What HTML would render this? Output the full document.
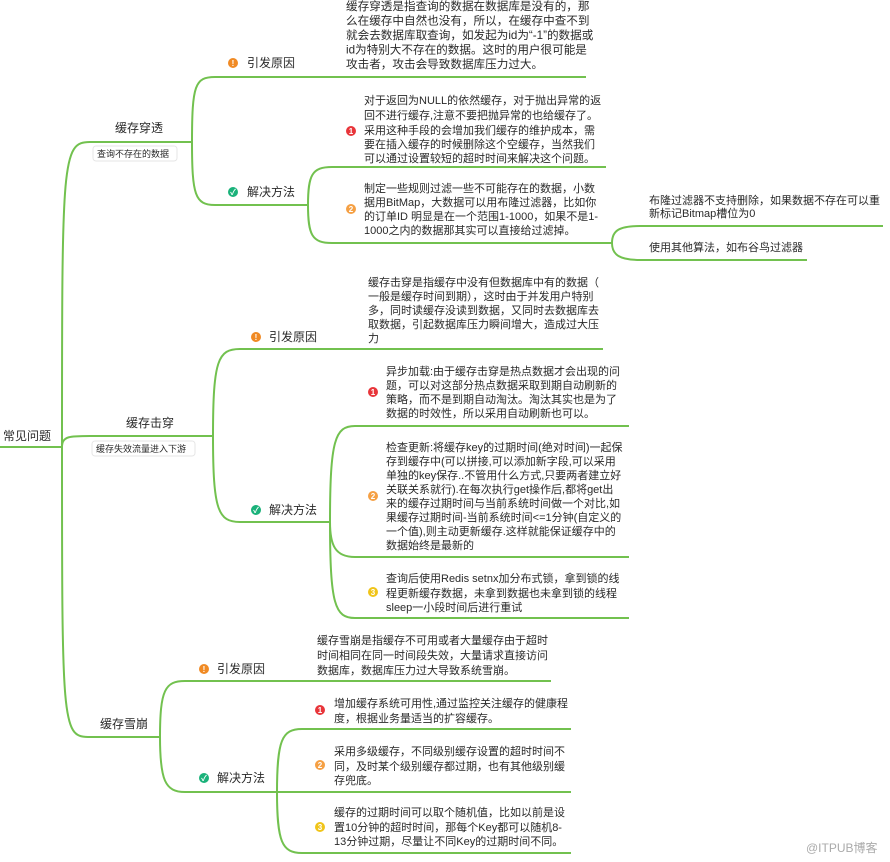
<!DOCTYPE html>
<html><head><meta charset="utf-8"><style>
html,body{margin:0;padding:0;background:#fff;}
svg{display:block;}
text{font-family:"Liberation Sans","Noto Sans CJK SC",sans-serif;fill:#2a2a2a;}
.t{font-size:11px;}
.l{font-size:12px;}
.ic{font-size:8px;font-weight:bold;fill:#fff;text-anchor:middle;}
path{fill:none;stroke:#72c14f;stroke-width:2;}
</style></head><body>
<svg width="890" height="862" viewBox="0 0 890 862" xmlns="http://www.w3.org/2000/svg">
<!-- root -->
<text class="l" x="3" y="440">常见问题</text>
<path d="M0 447 L62 447"/>
<path d="M62 447 C62 160 62 142 90 142 L192 142"/>
<path d="M62 447 C62 436 70 436 90 436 L213 436"/>
<path d="M62 447 C62 720 62 737 88 737 L160 737"/>

<!-- branch 1 -->
<text class="l" x="115" y="132">缓存穿透</text>
<rect x="93" y="146" width="84" height="15" rx="3" fill="#fff" stroke="#e6e6e6" stroke-width="1"/>
<text x="97" y="157" style="font-size:9px">查询不存在的数据</text>
<path d="M192 142 C192 85 195 77 215 77 L586 77"/>
<path d="M192 142 C192 195 195 205 215 205 L308 205"/>
<circle cx="233" cy="63" r="5" fill="#f08a24"/><text class="ic" x="233" y="66">!</text>
<text class="l" x="247" y="67">引发原因</text>
<text style="font-size:11.6px"><tspan x="346" y="10">缓存穿透是指查询的数据在数据库是没有的，那</tspan><tspan x="346" y="24.5">么在缓存中自然也没有，所以，在缓存中查不到</tspan><tspan x="346" y="39">就会去数据库取查询，如发起为id为“-1”的数据或</tspan><tspan x="346" y="53.5">id为特别大不存在的数据。这时的用户很可能是</tspan><tspan x="346" y="68">攻击者，攻击会导致数据库压力过大。</tspan></text>
<circle cx="233" cy="192" r="5" fill="#1ab27a"/><text class="ic" x="233" y="195">✓</text>
<text class="l" x="247" y="196">解决方法</text>
<path d="M308 205 C308 175 312 167 332 167 L606 167"/>
<path d="M308 205 C308 235 312 243 332 243 L612 243"/>
<circle cx="351" cy="131" r="5" fill="#e8353a"/><text class="ic" x="351" y="134">1</text>
<text class="t"><tspan x="364" y="104">对于返回为NULL的依然缓存，对于抛出异常的返</tspan><tspan x="364" y="119">回不进行缓存,注意不要把抛异常的也给缓存了。</tspan><tspan x="364" y="134">采用这种手段的会增加我们缓存的维护成本，需</tspan><tspan x="364" y="148">要在插入缓存的时候删除这个空缓存，当然我们</tspan><tspan x="364" y="162">可以通过设置较短的超时时间来解决这个问题。</tspan></text>
<circle cx="351" cy="209" r="5" fill="#f5a044"/><text class="ic" x="351" y="212">2</text>
<text class="t"><tspan x="364" y="192">制定一些规则过滤一些不可能存在的数据，小数</tspan><tspan x="364" y="206">据用BitMap，大数据可以用布隆过滤器，比如你</tspan><tspan x="364" y="220">的订单ID 明显是在一个范围1-1000，如果不是1-</tspan><tspan x="364" y="234">1000之内的数据那其实可以直接给过滤掉。</tspan></text>
<path d="M612 243 C612 230 620 226 640 226 L883 226"/>
<path d="M612 243 C612 255 620 260 640 260 L807 260"/>
<text class="t"><tspan x="649" y="204">布隆过滤器不支持删除，如果数据不存在可以重</tspan><tspan x="649" y="217">新标记Bitmap槽位为0</tspan></text>
<text class="t" x="649" y="251">使用其他算法，如布谷鸟过滤器</text>

<!-- branch 2 -->
<text class="l" x="126" y="427">缓存击穿</text>
<rect x="92" y="441" width="103" height="15" rx="3" fill="#fff" stroke="#e6e6e6" stroke-width="1"/>
<text x="96" y="452" style="font-size:9px">缓存失效流量进入下游</text>
<path d="M213 436 C213 360 218 349 240 349 L603 349"/>
<path d="M213 436 C213 510 218 522 240 522 L330 522"/>
<circle cx="256" cy="337" r="5" fill="#f08a24"/><text class="ic" x="256" y="340">!</text>
<text class="l" x="269" y="341">引发原因</text>
<text class="t"><tspan x="368" y="286">缓存击穿是指缓存中没有但数据库中有的数据（</tspan><tspan x="368" y="300">一般是缓存时间到期），这时由于并发用户特别</tspan><tspan x="368" y="314">多，同时读缓存没读到数据，又同时去数据库去</tspan><tspan x="368" y="328">取数据，引起数据库压力瞬间增大，造成过大压</tspan><tspan x="368" y="342">力</tspan></text>
<circle cx="256" cy="510" r="5" fill="#1ab27a"/><text class="ic" x="256" y="513">✓</text>
<text class="l" x="269" y="514">解决方法</text>
<path d="M330 522 C330 440 335 426 355 426 L629 426"/>
<path d="M330 522 C330 545 335 557 355 557 L629 557"/>
<path d="M330 522 C330 605 335 618 355 618 L629 618"/>
<circle cx="373" cy="392" r="5" fill="#e8353a"/><text class="ic" x="373" y="395">1</text>
<text class="t"><tspan x="386" y="375">异步加载:由于缓存击穿是热点数据才会出现的问</tspan><tspan x="386" y="389">题，可以对这部分热点数据采取到期自动刷新的</tspan><tspan x="386" y="403">策略，而不是到期自动淘汰。淘汰其实也是为了</tspan><tspan x="386" y="417">数据的时效性，所以采用自动刷新也可以。</tspan></text>
<circle cx="373" cy="496" r="5" fill="#f5a044"/><text class="ic" x="373" y="499">2</text>
<text class="t"><tspan x="386" y="451">检查更新:将缓存key的过期时间(绝对时间)一起保</tspan><tspan x="386" y="465">存到缓存中(可以拼接,可以添加新字段,可以采用</tspan><tspan x="386" y="479">单独的key保存..不管用什么方式,只要两者建立好</tspan><tspan x="386" y="493">关联关系就行).在每次执行get操作后,都将get出</tspan><tspan x="386" y="507">来的缓存过期时间与当前系统时间做一个对比,如</tspan><tspan x="386" y="521">果缓存过期时间-当前系统时间&lt;=1分钟(自定义的</tspan><tspan x="386" y="535">一个值),则主动更新缓存.这样就能保证缓存中的</tspan><tspan x="386" y="549">数据始终是最新的</tspan></text>
<circle cx="373" cy="592" r="5" fill="#f0c419"/><text class="ic" x="373" y="595">3</text>
<text class="t"><tspan x="386" y="582">查询后使用Redis setnx加分布式锁，拿到锁的线</tspan><tspan x="386" y="597">程更新缓存数据，未拿到数据也未拿到锁的线程</tspan><tspan x="386" y="611">sleep一小段时间后进行重试</tspan></text>

<!-- branch 3 -->
<text class="l" x="100" y="728">缓存雪崩</text>
<path d="M160 737 C160 690 165 681 185 681 L551 681"/>
<path d="M160 737 C160 780 165 792 185 792 L277 792"/>
<circle cx="204" cy="669" r="5" fill="#f08a24"/><text class="ic" x="204" y="672">!</text>
<text class="l" x="217" y="673">引发原因</text>
<text class="t"><tspan x="317" y="644">缓存雪崩是指缓存不可用或者大量缓存由于超时</tspan><tspan x="317" y="659">时间相同在同一时间段失效，大量请求直接访问</tspan><tspan x="317" y="674">数据库，数据库压力过大导致系统雪崩。</tspan></text>
<circle cx="204" cy="778" r="5" fill="#1ab27a"/><text class="ic" x="204" y="781">✓</text>
<text class="l" x="217" y="782">解决方法</text>
<path d="M277 792 C277 740 282 729 302 729 L571 729"/>
<path d="M277 792 L571 792"/>
<path d="M277 792 C277 842 282 853 302 853 L571 853"/>
<circle cx="320" cy="710" r="5" fill="#e8353a"/><text class="ic" x="320" y="713">1</text>
<text class="t"><tspan x="334" y="707">增加缓存系统可用性,通过监控关注缓存的健康程</tspan><tspan x="334" y="722">度，根据业务量适当的扩容缓存。</tspan></text>
<circle cx="320" cy="765" r="5" fill="#f5a044"/><text class="ic" x="320" y="768">2</text>
<text class="t"><tspan x="334" y="755">采用多级缓存，不同级别缓存设置的超时时间不</tspan><tspan x="334" y="770">同，及时某个级别缓存都过期，也有其他级别缓</tspan><tspan x="334" y="784">存兜底。</tspan></text>
<circle cx="320" cy="827" r="5" fill="#f0c419"/><text class="ic" x="320" y="830">3</text>
<text class="t"><tspan x="334" y="816">缓存的过期时间可以取个随机值，比如以前是设</tspan><tspan x="334" y="831">置10分钟的超时时间，那每个Key都可以随机8-</tspan><tspan x="334" y="845">13分钟过期，尽量让不同Key的过期时间不同。</tspan></text>

<text x="806" y="852" style="font-size:12px;fill:#aaa">@ITPUB博客</text>
</svg>
</body></html>
